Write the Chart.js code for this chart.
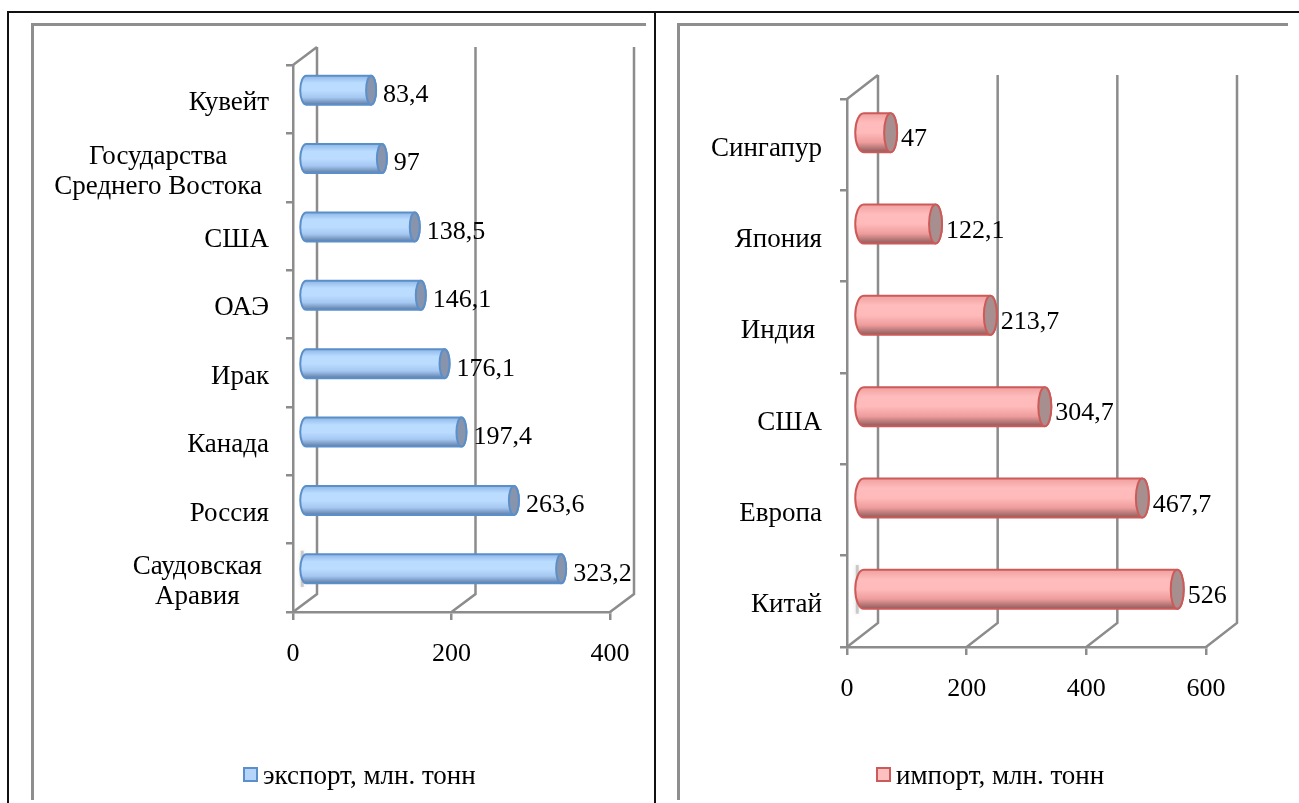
<!DOCTYPE html>
<html>
<head>
<meta charset="utf-8">
<script src="https://cdn.jsdelivr.net/npm/chart.js@4"></script>
<style>
  html, body { margin: 0; padding: 0; background: #fff; overflow: hidden; }
  body { width: 1299px; height: 803px; position: relative; }
  canvas { position: absolute; top: 0; }
  .line { position: absolute; }
  .black { background: #111; }
  .gray { background: #8e8e8e; }
</style>
</head>
<body>
<div class="line black" style="left:7px;top:11px;width:1292px;height:2px"></div>
<div class="line black" style="left:7px;top:11px;width:2px;height:792px"></div>
<div class="line black" style="left:654px;top:11px;width:2px;height:792px"></div>
<div class="line gray" style="left:31px;top:23px;width:615px;height:3px"></div>
<div class="line gray" style="left:31px;top:23px;width:3px;height:777px"></div>
<div class="line gray" style="left:677px;top:23px;width:611px;height:3px"></div>
<div class="line gray" style="left:677px;top:23px;width:3px;height:777px"></div>
<canvas id="exportChart" width="654" height="803" style="left:0"></canvas>
<canvas id="importChart" width="645" height="803" style="left:654px"></canvas>
<script>
const exportLabels = ['Кувейт', ['Государства', 'Среднего Востока'], 'США', 'ОАЭ', 'Ирак', 'Канада', 'Россия', ['Саудовская', 'Аравия']];
const exportValues = [83.4, 97, 138.5, 146.1, 176.1, 197.4, 263.6, 323.2];
const exportTicks = [0, 200, 400];

const importLabels = ['Сингапур', 'Япония', 'Индия ', 'США', 'Европа', 'Китай'];
const importValues = [47, 122.1, 213.7, 304.7, 467.7, 526];
const importTicks = [0, 200, 400, 600];

const VALUE_FONT = '26px "Liberation Serif"';
const TEXT_FONT = '27px "Liberation Serif"';
const GRID = '#8c8c8c';

// 3D look: back wall, floor, cylinders and labels are painted around the bar elements
const fake3d = {
  id: 'fake3d',
  beforeDatasetsDraw(chart, args, o) {
    const c = chart.ctx, a = chart.chartArea, xs = chart.scales.x;
    c.save();
    c.strokeStyle = GRID;
    c.lineWidth = 2.5;
    c.beginPath();
    c.moveTo(a.left, a.top);
    c.lineTo(a.left + o.dx, a.top + o.dy);
    xs.ticks.forEach(t => {
      const x = xs.getPixelForValue(t.value);
      c.moveTo(x + o.dx, a.top + o.dy);
      c.lineTo(x + o.dx, a.bottom + o.dy);
      c.lineTo(x, a.bottom);
    });
    c.stroke();
    c.restore();
  },
  afterDatasetsDraw(chart, args, o) {
    const c = chart.ctx;
    const meta = chart.getDatasetMeta(0);
    const values = chart.data.datasets[0].data;
    c.save();
    meta.data.forEach((el, i) => {
      const x0 = el.base + o.dx / 2, x1 = el.x + o.dx / 2;
      const cy = el.y + o.dy / 2, ry = el.height / 2;
      // faint smudge the original has behind the longest bar
      if (i === meta.data.length - 1) {
        c.save();
        c.strokeStyle = 'rgba(120,120,120,0.35)';
        c.shadowColor = 'rgba(120,120,120,0.6)';
        c.shadowBlur = 4;
        c.lineWidth = 3;
        c.beginPath();
        c.moveTo(x0 - o.rxLeft + 2, cy - ry * 1.25);
        c.lineTo(x0 - o.rxLeft + 2, cy + ry * 1.25);
        c.stroke();
        c.restore();
      }
      const g = c.createLinearGradient(0, cy - ry, 0, cy + ry);
      o.body.forEach((col, k) => g.addColorStop(k / (o.body.length - 1), col));
      c.beginPath();
      c.ellipse(x0, cy, o.rxLeft, ry, 0, Math.PI / 2, Math.PI * 1.5);
      c.lineTo(x1, cy - ry);
      c.ellipse(x1, cy, o.rx, ry, 0, -Math.PI / 2, Math.PI / 2);
      c.closePath();
      c.fillStyle = g;
      c.fill();
      c.lineWidth = 2;
      c.strokeStyle = o.edge;
      c.stroke();
      c.beginPath();
      c.ellipse(x1, cy, o.rx, ry, 0, 0, Math.PI * 2);
      c.fillStyle = o.cap;
      c.fill();
      c.stroke();

      c.fillStyle = '#000';
      c.font = VALUE_FONT;
      c.textAlign = 'left';
      c.textBaseline = 'middle';
      c.fillText(String(values[i]).replace('.', ','), x1 + o.rx + o.labelGap, cy + o.labelDy);
    });
    c.restore();
  },
  afterDraw(chart, args, o) {
    const c = chart.ctx, ys = chart.scales.y;
    c.save();
    c.fillStyle = '#000';
    c.font = TEXT_FONT;
    c.textBaseline = 'middle';
    // category labels: each line centred inside its block, block against the axis
    chart.data.labels.forEach((label, i) => {
      const lines = [].concat(label);
      const y = ys.getPixelForValue(i) + 4;
      const w = Math.max(...lines.map(l => c.measureText(l).width));
      const mid = o.labelRight - (lines.length > 1 ? 7 : 0) - w / 2;
      c.textAlign = 'center';
      lines.forEach((l, k) => c.fillText(l, mid, y + (k - (lines.length - 1) / 2) * 30));
    });
    // legend
    const ds = chart.data.datasets[0];
    c.fillStyle = o.swatch;
    c.strokeStyle = o.edge;
    c.lineWidth = 2;
    c.fillRect(o.legendX, 768, 13, 13);
    c.strokeRect(o.legendX, 768, 13, 13);
    c.fillStyle = '#000';
    c.textAlign = 'left';
    c.fillText(ds.label, o.legendX + 19, 777);
    c.restore();
  }
};

function makeChart(id, labels, values, ticks, seriesName, s) {
  return new Chart(document.getElementById(id), {
    type: 'bar',
    data: {
      labels: labels,
      datasets: [{
        label: seriesName,
        data: values,
        backgroundColor: 'transparent',
        borderWidth: 0,
        barThickness: s.barHeight
      }]
    },
    options: {
      indexAxis: 'y',
      responsive: false,
      animation: false,
      layout: { padding: { top: s.top, right: s.right, left: 0, bottom: 0 } },
      scales: {
        x: {
          min: 0,
          max: ticks[ticks.length - 1],
          afterFit: sc => { sc.height = s.axisHeight; },
          ticks: {
            stepSize: ticks[1],
            maxRotation: 0,
            padding: 19,
            color: '#000',
            font: { family: 'Liberation Serif', size: 26 }
          },
          grid: { drawOnChartArea: false, color: GRID, lineWidth: 2.5, tickLength: 8 },
          border: { color: GRID, width: 2.5 }
        },
        y: {
          afterFit: sc => { sc.width = s.left; },
          ticks: { display: false },
          grid: { drawOnChartArea: false, color: GRID, lineWidth: 2.5, tickLength: 7 },
          border: { color: GRID, width: 2.5 }
        }
      },
      plugins: {
        legend: { display: false },
        tooltip: { enabled: false },
        fake3d: s.look
      }
    },
    plugins: [fake3d]
  });
}

makeChart('exportChart', exportLabels, exportValues, exportTicks, 'экспорт, млн. тонн', {
  left: 293, right: 44, top: 65, axisHeight: 191, barHeight: 29,
  look: {
    dx: 24, dy: -18, rx: 5, rxLeft: 6, labelGap: 7, labelDy: 5, labelRight: 269, legendX: 244,
    body: ['#8fb6e6', '#b9dcff', '#bcdcff', '#a5c8f2', '#5f7da6'],
    edge: '#5b8fc9', cap: '#8794ab', swatch: '#b5d4fa'
  }
});

makeChart('importChart', importLabels, importValues, importTicks, 'импорт, млн. тонн', {
  left: 193, right: 93, top: 99, axisHeight: 156, barHeight: 39,
  look: {
    dx: 31, dy: -24, rx: 6.5, rxLeft: 8.5, labelGap: 4, labelDy: 7, labelRight: 168, legendX: 223,
    body: ['#f0a0a0', '#ffbcbc', '#ffbaba', '#ee9c9c', '#8d5c5c'],
    edge: '#cc5a58', cap: '#a88f8f', swatch: '#fcc0c0'
  }
});
</script>
</body>
</html>
